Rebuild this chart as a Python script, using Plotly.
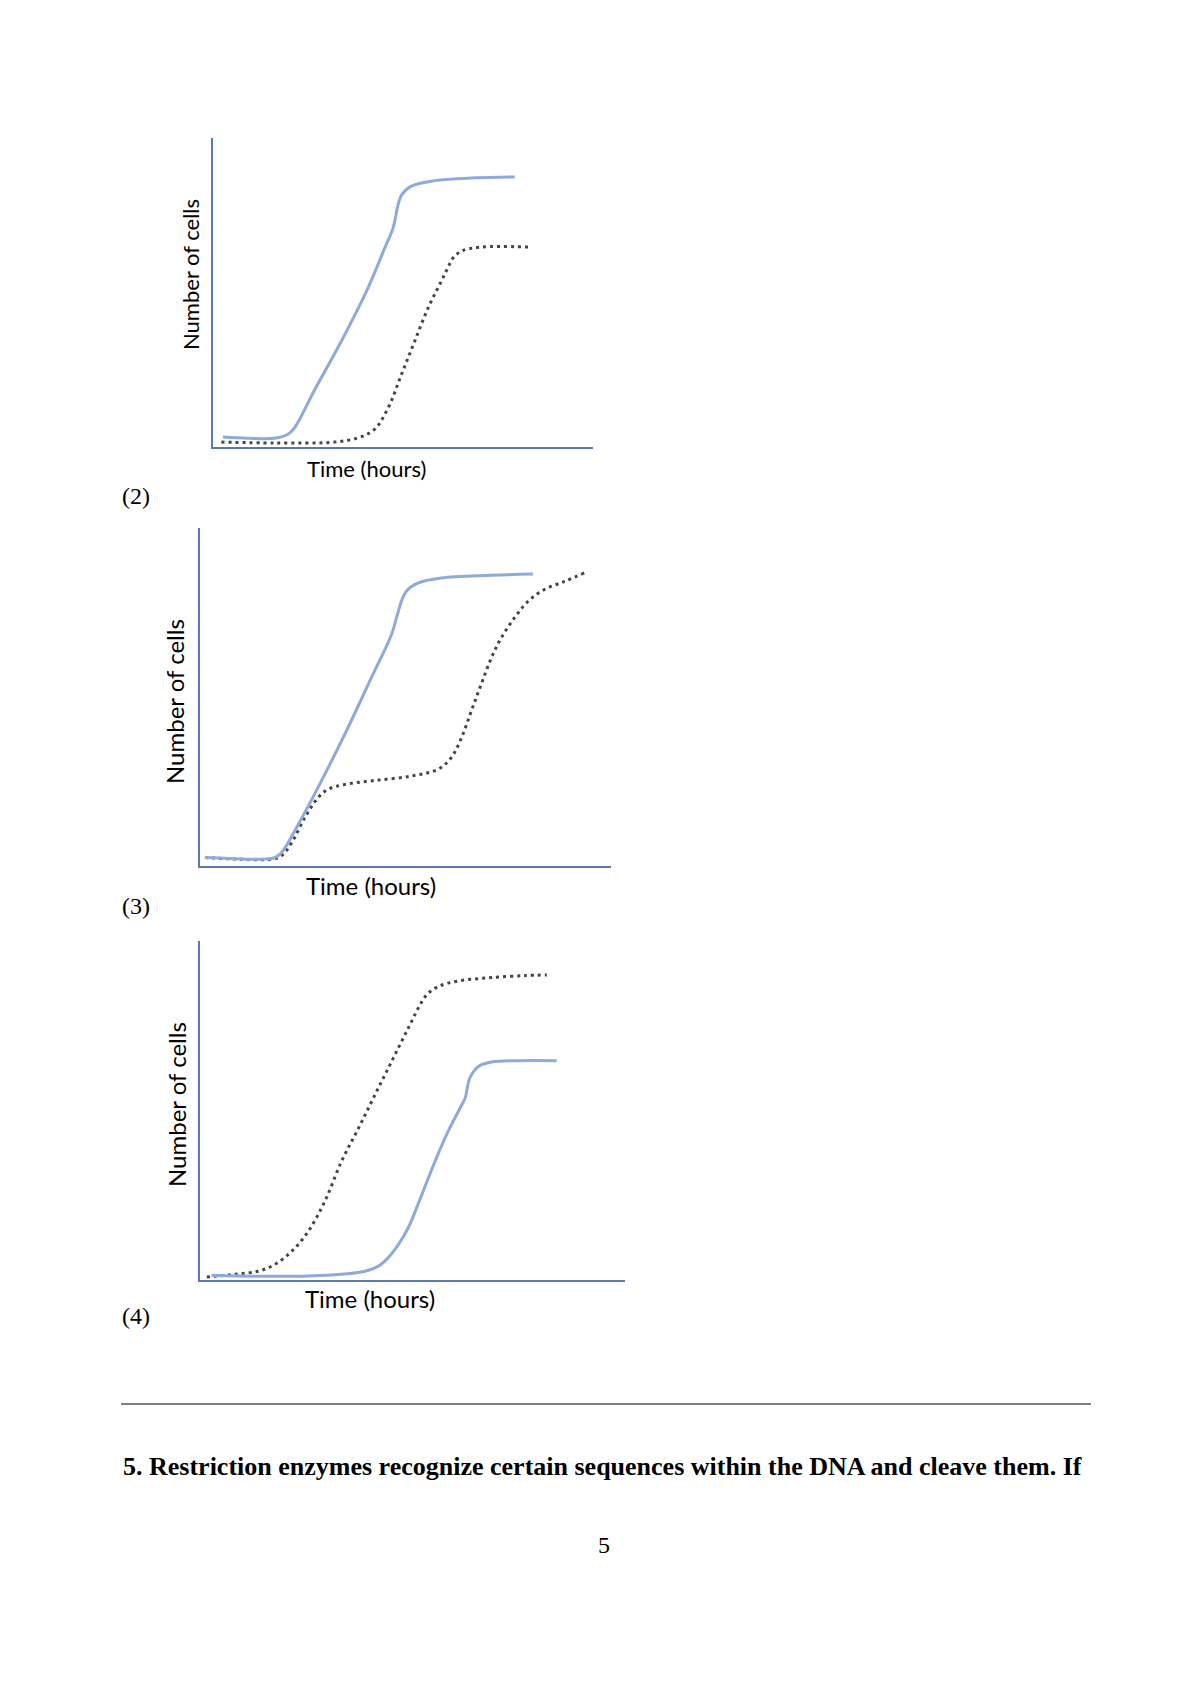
import plotly.graph_objects as go

W, H = 1191, 1684

# chart (2)
t2_solid = [2.6, 9.2, 16.2, 19.7, 21.5, 26.8, 33.8, 40.8, 45.2, 47.4, 48.7, 49.6, 52.2, 58.3, 68.9, 79.4]
n2_solid = [3.2, 2.8, 2.8, 4.1, 6.3, 18.6, 34.3, 51.5, 64.4, 70.9, 78.4, 81.5, 84.4, 86.2, 87.1, 87.4]
t2_dot = [2.2, 16.2, 32.0, 38.2, 42.5, 46.1, 49.6, 53.1, 56.6, 60.1, 61.8, 63.2, 65.4, 70.6, 82.9]
n2_dot = [1.6, 1.3, 1.6, 3.0, 5.7, 12.7, 23.5, 34.3, 45.0, 53.7, 58.0, 61.2, 63.4, 64.7, 64.7]

# chart (3)
t3_solid = [1.2, 6.1, 14.2, 18.2, 19.8, 23.9, 28.7, 35.2, 41.7, 46.6, 47.8, 49.0, 50.2, 53.0, 58.7, 70.9, 81.0]
n3_solid = [2.5, 2.3, 2.0, 2.5, 3.9, 12.3, 23.2, 38.9, 55.7, 68.5, 73.4, 78.3, 81.3, 83.7, 85.2, 86.0, 86.4]
t3_dot = [1.2, 10.1, 17.4, 19.8, 22.3, 25.5, 28.7, 31.2, 35.2, 42.5, 51.4, 57.9, 61.1, 63.6, 66.0,
          68.4, 70.9, 73.3, 76.5, 79.8, 83.8, 88.7, 93.5]
n3_dot = [2.5, 2.0, 2.0, 3.0, 6.9, 14.3, 20.2, 22.7, 24.1, 25.3, 26.6, 28.6, 32.0, 37.9, 45.8,
          53.7, 61.6, 67.5, 73.4, 78.3, 81.8, 84.2, 86.7]

# chart (4)
t4_solid = [2.7, 13.7, 25.5, 33.3, 38.8, 42.0, 44.3, 46.7, 49.0, 52.2, 55.3, 58.4, 61.6, 62.4, 63.5,
            65.5, 68.6, 74.9, 83.9]
n4_solid = [1.4, 1.1, 1.2, 1.7, 2.6, 4.1, 6.6, 10.5, 15.4, 25.2, 35.0, 43.9, 51.7, 53.7, 59.6,
            63.0, 64.3, 64.7, 64.7]
t4_dot = [1.6, 8.2, 13.7, 17.6, 21.6, 25.5, 29.4, 33.3, 37.3, 41.2, 45.1, 49.0, 52.2, 53.7, 56.1,
          60.8, 68.6, 76.5, 81.6]
n4_dot = [0.9, 1.7, 2.6, 4.6, 8.5, 14.4, 23.3, 35.0, 44.8, 54.7, 64.5, 74.3, 82.1, 84.6, 86.6,
          88.2, 89.2, 89.8, 90.0]

panel_labels = ["(2)", "(3)", "(4)"]
x_title = "Time (hours)"
y_title = "Number of cells"
question = "5. Restriction enzymes recognize certain sequences within the DNA and cleave them. If"
page_no = "5"

# pixel boxes of each chart: left, right, top, bottom
boxes = [(205, 585, 130, 439), (192, 603, 520, 858), (192, 617, 933, 1272)]
xt_pos = [(358, 460), (363, 877), (362, 1290)]
yt_pos = [(182, 267), (167, 694), (168, 1097)]
lbl_pos = [(128, 488), (128, 898), (128, 1308)]
tsize = [22, 24, 24]

solid_col = "#8eaadb"
dot_col = "#454545"
axis_col = "#5a78b4"

series = [(t2_solid, n2_solid, t2_dot, n2_dot),
          (t3_solid, n3_solid, t3_dot, n3_dot),
          (t4_solid, n4_solid, t4_dot, n4_dot)]

fig = go.Figure()
layout = dict(width=W, height=H, margin=dict(l=0, r=0, t=0, b=0),
              paper_bgcolor="white", plot_bgcolor="white", showlegend=False)
ann = []


def note(px, py, text, fam, size, **kw):
    d = dict(x=px / W, y=1 - py / H, text=text, showarrow=False, xref="paper", yref="paper",
             xanchor="center", yanchor="middle", font=dict(family=fam, size=size, color="#000"))
    d.update(kw)
    return d


for i, (ts, ns, td, nd) in enumerate(series):
    k = "" if i == 0 else str(i + 1)
    l, r, t, b = boxes[i]
    fig.add_trace(go.Scatter(x=td, y=nd, mode="lines", line_shape="spline",
                             line=dict(color=dot_col, width=3, dash="3px,4px"),
                             xaxis="x" + k, yaxis="y" + k))
    fig.add_trace(go.Scatter(x=ts, y=ns, mode="lines", line_shape="spline",
                             line=dict(color=solid_col, width=3),
                             xaxis="x" + k, yaxis="y" + k))
    ax = dict(range=[0, 100], showgrid=False, zeroline=False, showticklabels=False,
              ticks="", showline=True, linecolor=axis_col, linewidth=2, fixedrange=True)
    layout["xaxis" + k] = dict(ax, domain=[l / W, r / W], anchor="y" + k)
    layout["yaxis" + k] = dict(ax, domain=[1 - b / H, 1 - t / H], anchor="x" + k)

    ann.append(note(xt_pos[i][0], xt_pos[i][1], x_title, "Lato", tsize[i]))
    ann.append(note(yt_pos[i][0], yt_pos[i][1], y_title, "Lato", tsize[i], textangle=-90))
    ann.append(note(lbl_pos[i][0], lbl_pos[i][1], panel_labels[i], "Liberation Serif", 24))

ann.append(note(113, 1458, "<b>" + question + "</b>", "Liberation Serif", 26, xanchor="left"))
ann.append(note(596, 1537, page_no, "Liberation Serif", 24))

layout["annotations"] = ann
layout["shapes"] = [dict(type="line", xref="paper", yref="paper", x0=113 / W, x1=1083 / W,
                         y0=1 - 1396 / H, y1=1 - 1396 / H, line=dict(color="#000", width=1.2))]
fig.update_layout(**layout)

fig.write_html("out.html")
